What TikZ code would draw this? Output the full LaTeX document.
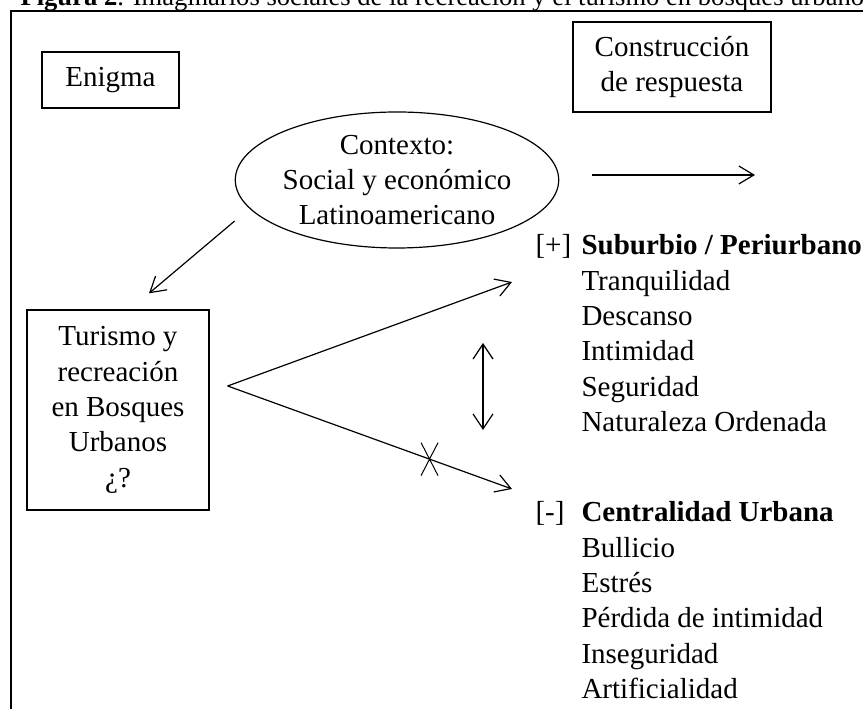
\documentclass[tikz,border=0pt]{standalone}
\usepackage{fontspec}
\setmainfont{Liberation Serif}
\usetikzlibrary{arrows.meta,shapes.geometric,shapes.misc}

\tikzset{
  box/.style={draw, line width=1.3pt, inner sep=0pt, align=center},
  arr/.style={line width=1.2pt, -{Straight Barb[length=15pt,width=18pt]}},
  darr/.style={line width=1.2pt, {Straight Barb[length=15pt,width=20pt]}-{Straight Barb[length=15pt,width=20pt]}},
  xmark/.style={draw, cross out, line width=1pt, minimum width=16pt, minimum height=32pt, inner sep=0pt}
}

\begin{document}
\begin{tikzpicture}[x=1pt, y=1pt, font=\fontsize{29}{35.3}\selectfont]
    \useasboundingbox (0,0) rectangle (863,709);

    \node (title) [anchor=base west, font=\fontsize{26.6}{30}\selectfont] at (17,703)
        {\textbf{Figura 2}. Imaginarios sociales de la recreación y el turismo en bosques urbanos};
    \draw[line width=2pt] (11,0) -- (11,698) -- (863,698);

    \node (enigma) [box, minimum width=137pt, minimum height=56pt] at (110.5,629) {Enigma};
    \node (resp) [box, minimum width=198pt, minimum height=90pt] at (672,642) {Construcción\\de respuesta};
    \node (ctx) [draw, ellipse, line width=1.2pt, inner sep=0pt, align=center,
        minimum width=318pt, minimum height=136pt] at (397,529)
        {Contexto:\\Social y económico\\Latinoamericano};
    \node (tur) [box, minimum width=182pt, minimum height=200pt] at (118,299)
        {Turismo y\\recreación\\en Bosques\\Urbanos\\¿?};

    % base of a multi-line node is its last line
    \node (plus) [anchor=base west] at (532,454) {[+]};
    \node (sub) [anchor=base west, align=left] at (578,277.5)
        {\textbf{Suburbio / Periurbano}\\Tranquilidad\\Descanso\\Intimidad\\Seguridad\\Naturaleza Ordenada};
    \node (minus) [anchor=base west] at (532,187) {[-]};
    \node (cen) [anchor=base west, align=left] at (578,10.5)
        {\textbf{Centralidad Urbana}\\Bullicio\\Estrés\\Pérdida de intimidad\\Inseguridad\\Artificialidad};

    \coordinate (fork) at ([shift={(18,24)}]tur.east);
    \coordinate (up) at (512,427);
    \coordinate (dn) at (512,220);
    \coordinate (ahead) at (755,534);

    \draw[arr] ([shift={(0,-41)}]ctx.west) -- ([shift={(31,16)}]tur.north);
    \draw[arr] ([shift={(33,5)}]ctx.east) -- (ahead);
    \draw[arr] (fork) -- (up);
    \draw[arr] (fork) -- (dn) node (cut) [xmark, pos=0.71] {};
    \draw[darr] (483,366) -- (483,279);
\end{tikzpicture}
\end{document}
